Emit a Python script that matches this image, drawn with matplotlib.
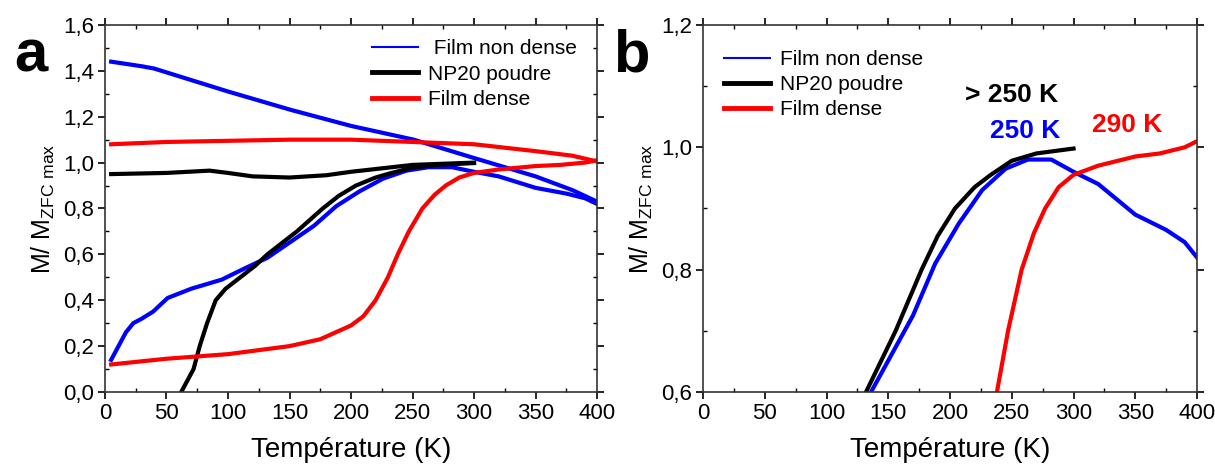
import matplotlib
matplotlib.use("Agg")
import matplotlib.pyplot as plt
from matplotlib.ticker import MultipleLocator, FuncFormatter

plt.rcParams['font.family'] = ['Liberation Sans', 'DejaVu Sans']
plt.rcParams['mathtext.fontset'] = 'custom'
plt.rcParams['mathtext.rm'] = 'Liberation Sans'

# Film non dense (blue) - ZFC and FC branches
blue_zfc_T = [5, 10, 17, 23, 30, 39, 51, 70, 95, 114, 132, 151, 170, 188, 207,
              226, 245, 263, 282, 300, 320, 350, 375, 390, 400]
blue_zfc_M = [0.14, 0.19, 0.26, 0.30, 0.32, 0.35, 0.41, 0.45, 0.49, 0.54, 0.585,
              0.655, 0.725, 0.81, 0.875, 0.93, 0.965, 0.98, 0.98, 0.96, 0.94,
              0.89, 0.865, 0.845, 0.82]
blue_fc_T = [5, 30, 40, 58, 100, 151, 200, 251, 300, 350, 380, 400]
blue_fc_M = [1.44, 1.42, 1.41, 1.38, 1.31, 1.23, 1.16, 1.10, 1.02, 0.94, 0.88, 0.83]

# NP20 poudre (black)
black_zfc_T = [62, 72, 77, 83, 90, 98, 110, 122, 132, 144, 156, 177, 190,
               204, 220, 233, 250, 270, 300]
black_zfc_M = [0.0, 0.1, 0.2, 0.3, 0.4, 0.45, 0.5, 0.55, 0.6, 0.65, 0.7,
               0.8, 0.855, 0.9, 0.935, 0.955, 0.978, 0.99, 0.998]
black_fc_T = [5, 50, 85, 100, 120, 150, 180, 200, 250, 300]
black_fc_M = [0.95, 0.955, 0.965, 0.955, 0.94, 0.935, 0.945, 0.96, 0.99, 1.0]

# Film dense (red)
red_zfc_T = [5, 50, 100, 150, 175, 200, 210, 220, 230, 238, 247, 258, 268,
             277, 288, 300, 320, 350, 370, 390, 400]
red_zfc_M = [0.12, 0.145, 0.165, 0.20, 0.23, 0.29, 0.33, 0.40, 0.50, 0.60,
             0.70, 0.80, 0.86, 0.90, 0.935, 0.955, 0.97, 0.985, 0.99, 1.0, 1.01]
red_fc_T = [5, 50, 100, 150, 200, 250, 300, 350, 380, 400]
red_fc_M = [1.08, 1.09, 1.095, 1.10, 1.10, 1.09, 1.08, 1.05, 1.03, 1.005]

comma = FuncFormatter(lambda v, p: f"{v:.1f}".replace('.', ','))


def style_axes(ax, ymin, ymax):
    ax.set_xlim(0, 400)
    ax.set_ylim(ymin, ymax)
    ax.xaxis.set_major_locator(MultipleLocator(50))
    ax.xaxis.set_minor_locator(MultipleLocator(25))
    ax.yaxis.set_major_locator(MultipleLocator(0.2))
    ax.yaxis.set_minor_locator(MultipleLocator(0.1))
    ax.yaxis.set_major_formatter(comma)
    ax.tick_params(which='major', direction='out', length=5, width=1.2,
                   labelsize=16, pad=3)
    ax.tick_params(which='minor', direction='in', length=3, width=1)
    ax.tick_params(which='both', top=True, right=True)
    for s in ax.spines.values():
        s.set_linewidth(1.2)
        s.set_color('#333333')
    ax.set_xlabel('Température (K)', fontsize=20, labelpad=9)
    ax.set_ylabel(r'M/ M$_{\mathregular{ZFC\ max}}$', fontsize=18, labelpad=4)


fig = plt.figure(figsize=(12.15, 4.66), dpi=100)
ax1 = fig.add_axes([0.0864, 0.1588, 0.405, 0.7876])
ax2 = fig.add_axes([0.5786, 0.1588, 0.4066, 0.7876])

# panel a
ax1.plot(blue_zfc_T, blue_zfc_M, color='#0000ff', lw=3, label=' Film non dense')
ax1.plot(blue_fc_T, blue_fc_M, color='#0000ff', lw=3)
ax1.plot(black_zfc_T, black_zfc_M, color='black', lw=3, label='NP20 poudre')
ax1.plot(black_fc_T, black_fc_M, color='black', lw=3)
ax1.plot(red_zfc_T, red_zfc_M, color='#ff0000', lw=3, label='Film dense')
ax1.plot(red_fc_T, red_fc_M, color='#ff0000', lw=3)
style_axes(ax1, 0, 1.6)
leg1 = ax1.legend(loc='upper right', fontsize=15, frameon=False, handlelength=2.2,
                  labelspacing=0.3, borderaxespad=0.2, handletextpad=0.5,
                  bbox_to_anchor=(0.985, 0.995))
for h, w in zip(leg1.get_lines(), [1.5, 3.5, 3.5]):
    h.set_linewidth(w)

# panel b
ax2.plot(blue_zfc_T, blue_zfc_M, color='#0000ff', lw=3, label='Film non dense')
ax2.plot(black_zfc_T, black_zfc_M, color='black', lw=3, label='NP20 poudre')
ax2.plot(red_zfc_T, red_zfc_M, color='#ff0000', lw=3, label='Film dense')
style_axes(ax2, 0.6, 1.2)
leg2 = ax2.legend(loc='upper left', fontsize=15, frameon=False, handlelength=2.2,
                  labelspacing=0.3, borderaxespad=0.0, handletextpad=0.5,
                  bbox_to_anchor=(0.025, 0.955))
for h, w in zip(leg2.get_lines(), [1.5, 3.5, 3.5]):
    h.set_linewidth(w)

ax2.text(212, 1.085, '> 250 K', color='black', fontsize=19, fontweight='bold',
         ha='left', va='center')
ax2.text(232, 1.027, '250 K', color='#0000ff', fontsize=19, fontweight='bold',
         ha='left', va='center')
ax2.text(315, 1.036, '290 K', color='#ff0000', fontsize=19, fontweight='bold',
         ha='left', va='center')

fig.text(0.012, 0.88, 'a', fontsize=43, fontweight='bold', va='center')
fig.text(0.505, 0.88, 'b', fontsize=43, fontweight='bold', va='center')

fig.savefig('out.png', dpi=100)
